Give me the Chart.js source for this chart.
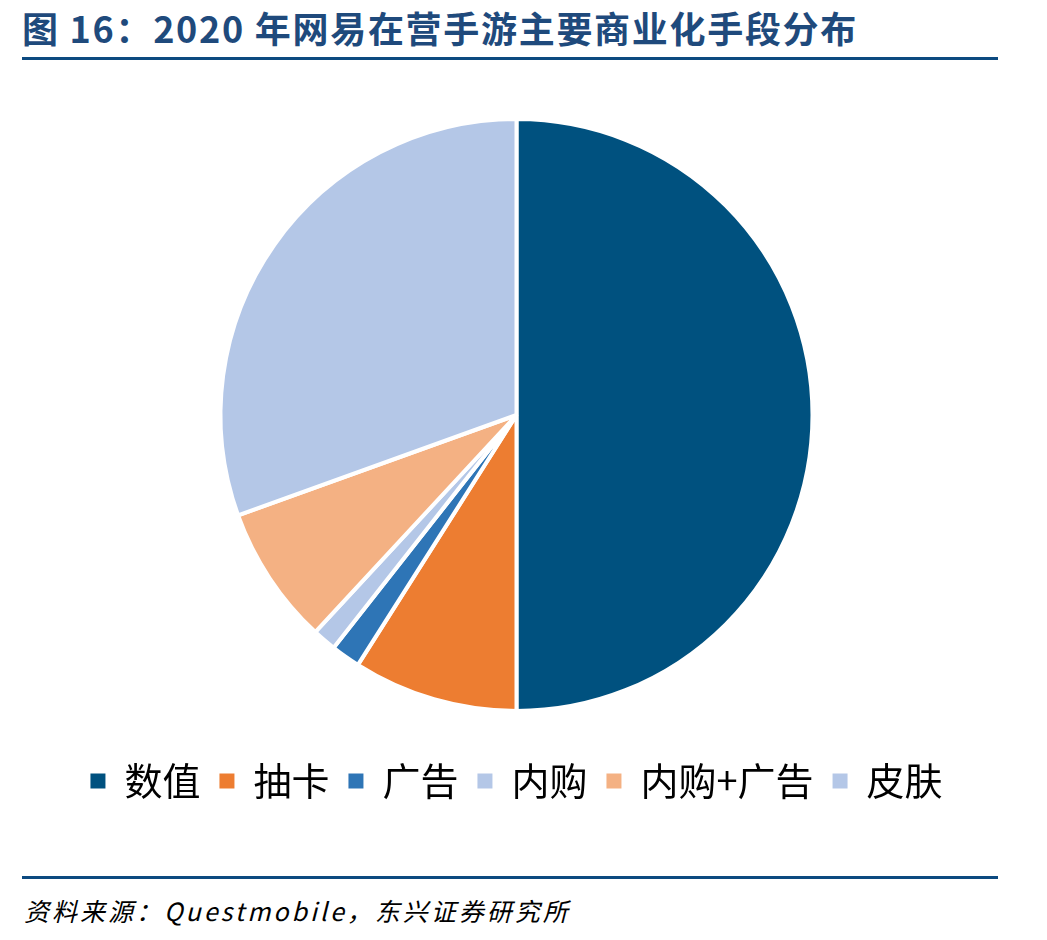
<!DOCTYPE html>
<html>
<head>
<meta charset="utf-8">
<script src="https://cdn.jsdelivr.net/npm/chart.js@4.4.0/dist/chart.umd.min.js"></script>
<style>
  body { margin: 0; background: #fff; width: 1047px; height: 940px; position: relative; overflow: hidden; }
  #title { position: absolute; left: 22px; top: 1px; font: bold 36px "Noto Sans CJK SC", sans-serif; letter-spacing: 1.7px; color: #1f4a7c; white-space: nowrap; }
  .rule { position: absolute; left: 22px; width: 976px; height: 3px; background: #0c4a80; }
  #box { position: absolute; left: 0; top: 70px; width: 1047px; height: 770px; }
  #source { position: absolute; left: 24px; top: 892px; font: italic 25px "Noto Sans CJK SC", sans-serif; letter-spacing: 3px; color: #000; white-space: nowrap; }
</style>
</head>
<body>
<div id="title">图 16：2020 年网易在营手游主要商业化手段分布</div>
<div class="rule" style="top:57px"></div>
<div id="box"><canvas id="myChart"></canvas></div>
<div class="rule" style="top:876px"></div>
<div id="source">资料来源：Questmobile，东兴证券研究所</div>
<script>
var labels = ["数值", "抽卡", "广告", "内购", "内购+广告", "皮肤"];
var shares = [50, 9, 1.6, 1.3, 7.6, 30.5];
var sliceColors = ["#00517f", "#ed7d31", "#2e75b6", "#b4c7e7", "#f4b183", "#b4c7e7"];

new Chart("myChart", {
    type: "pie",
    data: {
        labels: labels,
        datasets: [{
            data: shares,
            backgroundColor: sliceColors,
            borderColor: "#ffffff",
            borderWidth: 4
        }]
    },
    options: {
        responsive: true,
        maintainAspectRatio: false,
        animation: false,
        radius: 296,
        layout: { padding: { top: 17, bottom: 30, left: 0, right: 14 } },
        plugins: {
            tooltip: { enabled: false },
            legend: {
                position: "bottom",
                labels: {
                    boxWidth: 15,
                    boxHeight: 15,
                    padding: 19,
                    color: "#000",
                    font: { family: "'Noto Sans CJK SC', sans-serif", size: 38 },
                    // legend squares without the white slice border
                    generateLabels: function (chart) {
                        var items = Chart.overrides.pie.plugins.legend.labels.generateLabels(chart);
                        items.forEach(function (it) { it.lineWidth = 0; });
                        return items;
                    }
                }
            }
        }
    }
});
</script>
</body>
</html>
